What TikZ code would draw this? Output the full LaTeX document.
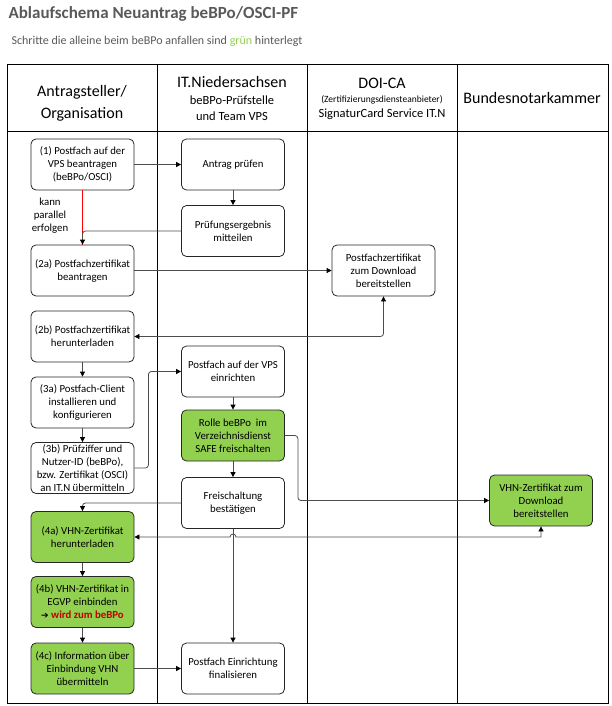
\documentclass[tikz,border=0pt]{standalone}
\usepackage{fontspec}
\setmainfont{Carlito}
\newfontfamily\symfont{DejaVu Sans}
\usetikzlibrary{arrows.meta}

\definecolor{verde}{HTML}{92D050}
\definecolor{rojo}{HTML}{C00000}
\definecolor{gris}{HTML}{595959}

\tikzset{
  paso/.style={draw=black!85, line width=0.8pt, rounded corners=5pt, minimum width=103pt, minimum height=51pt,
    align=center, inner sep=1pt, font=\fontsize{10.8}{13}\selectfont},
  pasoverde/.style={paso, fill=verde},
  flecha/.style={draw=black!70, line width=0.8pt, rounded corners=3pt, -{Triangle[length=5pt,width=5pt,color=black]}},
  dobleflecha/.style={flecha, {Triangle[length=5pt,width=5pt,color=black]}-{Triangle[length=5pt,width=5pt,color=black]}},
  cabecera/.style={align=center, font=\fontsize{16}{22}\selectfont},
  subcabecera/.style={align=center, font=\fontsize{12.5}{16}\selectfont}
}

\begin{document}
\begin{tikzpicture}[x=1pt,y=-1pt]
   \useasboundingbox (0,0) rectangle (611,706);

   %titulo
   \node[anchor=west, text=gris, font=\fontsize{17}{19}\selectfont\bfseries] (titulo) at (5,14) {Ablaufschema Neuantrag beBPo/OSCI-PF};
   \node[anchor=west, text=gris, font=\fontsize{12}{14}\selectfont] (nota) at (8,41) {Schritte die alleine beim beBPo anfallen sind \textcolor{verde}{grün} hinterlegt};

   %tabla
   \draw[line width=1pt] (7,65) rectangle (608,703);
   \draw[line width=0.8pt] (7,131.5) -- (608,131.5);
   \draw[line width=0.8pt] (157,65) -- (157,703);
   \draw[line width=0.8pt] (307,65) -- (307,703);
   \draw[line width=0.8pt] (457,65) -- (457,703);

   %cabecera
   \node[cabecera] (antragsteller) at (82,103) {Antragsteller/\\Organisation};
   \node[cabecera] (itn) at (232,82) {IT.Niedersachsen};
   \node[subcabecera] (pruefstelle) at (232,108) {beBPo-Prüfstelle\\und Team VPS};
   \node[cabecera] (doica) at (382,83) {DOI-CA};
   \node[font=\fontsize{9.5}{10}\selectfont] (zda) at (382,99.5) {(Zertifizierungsdiensteanbieter)};
   \node[subcabecera] (sigcard) at (382,114.5) {SignaturCard Service IT.N};
   \node[cabecera] (bnotk) at (532,98) {Bundesnotarkammer};

   %Antragsteller
   \node[paso] (p1) at (82.5,164.5) {(1) Postfach auf der\\VPS beantragen\\(beBPo/OSCI)};
   \node[paso] (p2a) at (82.5,270.5) {(2a) Postfachzertifikat\\beantragen};
   \node[paso] (p2b) at (82.5,336.5) {(2b) Postfachzertifikat\\herunterladen};
   \node[paso] (p3a) at (82.5,402.5) {(3a) Postfach-Client\\installieren und\\konfigurieren};
   \node[paso] (p3b) at (82.5,468) {(3b) Prüfziffer und\\Nutzer-ID (beBPo),\\bzw. Zertifikat (OSCI)\\an IT.N übermitteln};
   \node[pasoverde] (p4a) at (82.5,537) {(4a) VHN-Zertifikat\\herunterladen};
   \node[pasoverde] (p4b) at (82.5,602) {(4b) VHN-Zertifikat in\\EGVP einbinden\\{\symfont\fontsize{9}{10}\selectfont ➔} \textcolor{rojo}{\bfseries wird zum beBPo}};
   \node[pasoverde] (p4c) at (82.5,668.5) {(4c) Information über\\Einbindung VHN\\übermitteln};
   \node[align=center, font=\fontsize{10.8}{13}\selectfont] (parallel) at (50,216) {kann\\parallel\\erfolgen};

   %IT.N
   \node[paso] (pruefen) at (233,164.5) {Antrag prüfen};
   \node[paso] (ergebnis) at (233,231) {Prüfungsergebnis\\mitteilen};
   \node[paso] (einrichten) at (233,371.5) {Postfach auf der VPS\\einrichten};
   \node[pasoverde] (rolle) at (233,435.5) {Rolle beBPo\ \ im\\Verzeichnisdienst\\SAFE freischalten};
   \node[paso] (freischaltung) at (233,503) {Freischaltung\\bestätigen};
   \node[paso] (finalisieren) at (233,668.5) {Postfach Einrichtung\\finalisieren};

   %DOI-CA y BNotK
   \node[paso] (zertifikat) at (383.5,270.5) {Postfachzertifikat\\zum Download\\bereitstellen};
   \node[pasoverde] (vhn) at (541,500.5) {VHN-Zertifikat zum\\Download\\bereitstellen};

   %flechas
   \coordinate (cruce) at (233,537);
   \draw[draw=red, line width=0.8pt] (p1.south) -- (p2a.north);
   \draw[flecha] (p1.east) -- (pruefen.west);
   \draw[flecha] (pruefen.south) -- (ergebnis.north);
   \draw[flecha] (ergebnis.west) -| (p2a.north);
   \draw[flecha] (p2a.east) -- (zertifikat.west);
   \draw[dobleflecha] (p2b.east) -| (zertifikat.south);
   \draw[flecha] (p2b.south) -- (p3a.north);
   \draw[flecha] (p3a.south) -- (p3b.north);
   \draw[flecha] (p3b.east) -- ++(14,0) |- (einrichten.west);
   \draw[flecha] (einrichten.south) -- (rolle.north);
   \draw[flecha] (rolle.south) -- (freischaltung.north);
   \draw[flecha] (rolle.east) -- ++(13,0) |- (vhn.west);
   \draw[flecha] (freischaltung.west) -| (p4a.north);
   \draw[flecha] (freischaltung.south) -- (finalisieren.north);
   \draw[dobleflecha, rounded corners=0pt] (p4a.east) -- ([xshift=-3pt]cruce) arc[start angle=180, end angle=0, radius=3pt] -| (vhn.south);
   \draw[flecha] (p4a.south) -- (p4b.north);
   \draw[flecha] (p4b.south) -- (p4c.north);
   \draw[flecha] (p4c.east) -- (finalisieren.west);
\end{tikzpicture}
\end{document}
